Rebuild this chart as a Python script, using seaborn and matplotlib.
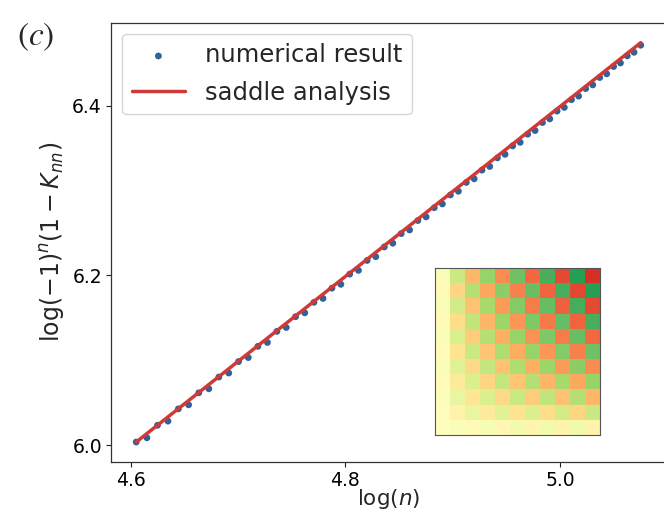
import numpy as np
import pandas as pd
import matplotlib
matplotlib.use("Agg")
import matplotlib.pyplot as plt
import seaborn as sns

# ---- data ----
n_values = list(range(100, 161))
numerical = [
    6.0040, 6.0090, 6.0237, 6.0286, 6.0430, 6.0478, 6.0619, 6.0667, 6.0805, 6.0852,
    6.0987, 6.1034, 6.1166, 6.1212, 6.1342, 6.1388, 6.1515, 6.1560, 6.1684, 6.1730,
    6.1851, 6.1896, 6.2016, 6.2060, 6.2177, 6.2221, 6.2336, 6.2380, 6.2493, 6.2536,
    6.2647, 6.2690, 6.2798, 6.2842, 6.2948, 6.2991, 6.3095, 6.3138, 6.3240, 6.3283,
    6.3384, 6.3426, 6.3525, 6.3567, 6.3663, 6.3706, 6.3800, 6.3843, 6.3935, 6.3978,
    6.4069, 6.4111, 6.4200, 6.4243, 6.4330, 6.4373, 6.4459, 6.4501, 6.4585, 6.4627,
    6.4710,
]
saddle_n = [100, 115, 130, 145, 160]
saddle_y = [6.0040, 6.1438, 6.2664, 6.3756, 6.4740]

# inset matrix (rows top -> bottom)
inset_matrix = [
    [0.04, 0.32, -0.45, 0.55, -0.63, 0.71, -0.77, 0.84, -0.89, 0.95, -1.00],
    [-0.04, -0.30, 0.42, -0.52, 0.60, -0.67, 0.74, -0.79, 0.85, -0.90, 0.95],
    [0.04, 0.28, -0.40, 0.49, -0.57, 0.63, -0.69, 0.75, -0.80, 0.85, -0.89],
    [-0.04, -0.26, 0.37, -0.46, 0.53, -0.59, 0.65, -0.70, 0.75, -0.79, 0.84],
    [0.03, 0.24, -0.35, 0.42, -0.49, 0.55, -0.60, 0.65, -0.69, 0.74, -0.77],
    [-0.03, -0.22, 0.32, -0.39, 0.45, -0.50, 0.55, -0.59, 0.63, -0.67, 0.71],
    [0.03, 0.20, -0.28, 0.35, -0.40, 0.45, -0.49, 0.53, -0.57, 0.60, -0.63],
    [-0.02, -0.17, 0.24, -0.30, 0.35, -0.39, 0.42, -0.46, 0.49, -0.52, 0.55],
    [0.02, 0.14, -0.20, 0.24, -0.28, 0.32, -0.35, 0.37, -0.40, 0.42, -0.45],
    [-0.01, -0.10, 0.14, -0.17, 0.20, -0.22, 0.24, -0.26, 0.28, -0.30, 0.32],
    [0.00, 0.03, -0.04, 0.05, -0.06, 0.07, -0.08, 0.08, -0.09, 0.09, -0.10],
]

x_ticks = [4.6, 4.8, 5.0]
y_ticks = [6.0, 6.2, 6.4]

# ---- plot ----
sns.set_style("ticks")
plt.rcParams["font.family"] = ["DejaVu Sans"]

fig = plt.figure(figsize=(6.64, 5.13), dpi=100)
ax = fig.add_axes([111 / 664, 1 - 462 / 513, 1 - 111 / 664 + 0.003, (462 - 22.7) / 513])

df = pd.DataFrame({"x": np.log(n_values), "y": numerical})
df_line = pd.DataFrame({"x": np.log(saddle_n), "y": saddle_y})

sns.scatterplot(data=df, x="x", y="y", ax=ax, color="#30639a", s=24,
                edgecolor="none", label="numerical result", zorder=2)
sns.lineplot(data=df_line, x="x", y="y", ax=ax, color="#d03a36", lw=2.5,
             label="saddle analysis", zorder=3)

ax.set_xticks(x_ticks)
ax.set_yticks(y_ticks)
ax.set_xticklabels([f"{v:.1f}" for v in x_ticks])
ax.set_yticklabels([f"{v:.1f}" for v in y_ticks])
ax.tick_params(labelsize=13.5, length=3.5, width=0.8, colors="#222222", labelcolor="black", pad=3)
for s in ax.spines.values():
    s.set_linewidth(0.9)
    s.set_color("#333333")

ax.set_xlabel(r"$\log(n)$", fontsize=15.5, labelpad=-2)
ax.set_ylabel(r"$\log(-1)^n(1-K_{nn})$", fontsize=17, labelpad=4)

leg = ax.legend(loc="upper left", fontsize=17.5, frameon=True, handlelength=2.2,
                bbox_to_anchor=(0.0, 1.0), borderaxespad=0.45, labelspacing=0.55,
                markerscale=1.0)
leg.get_frame().set_edgecolor("#cccccc")

fig.text(0.025, 0.912, r"$(c)$", fontsize=24, math_fontfamily="stix")

# inset heatmap
iax = fig.add_axes([435 / 664, 1 - 435 / 513, 165 / 664, 167 / 513])
sns.heatmap(np.array(inset_matrix), ax=iax, cmap="RdYlGn", vmin=-1.25, vmax=1.25,
            cbar=False, xticklabels=False, yticklabels=False)
for s in iax.spines.values():
    s.set_visible(True)
    s.set_linewidth(0.8)
    s.set_color("#555555")

fig.savefig("out.png", dpi=100)
